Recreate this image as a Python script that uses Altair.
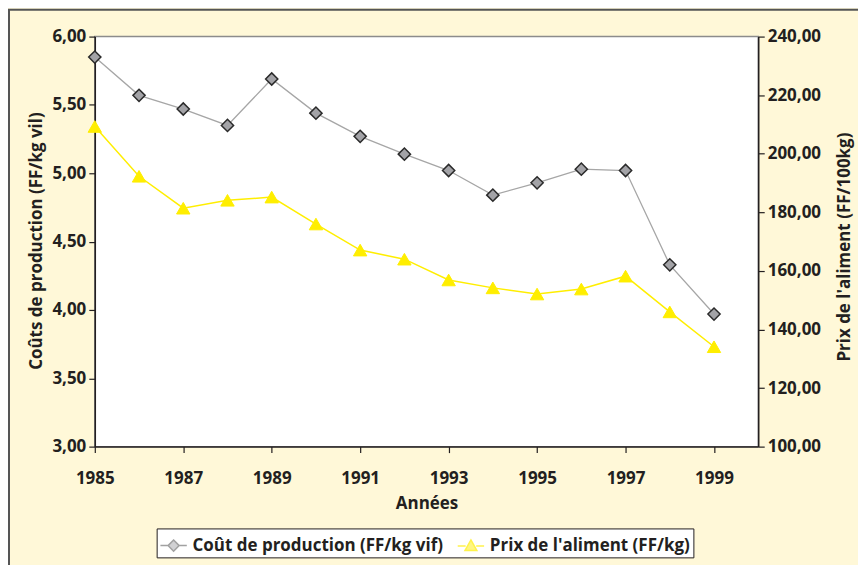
import altair as alt
import pandas as pd

annees = [1985, 1986, 1987, 1988, 1989, 1990, 1991, 1992, 1993, 1994, 1995, 1996, 1997, 1998, 1999]
cout_production = [5.85, 5.57, 5.47, 5.35, 5.69, 5.44, 5.27, 5.14, 5.02, 4.84, 4.93, 5.03, 5.02, 4.33, 3.97]
prix_aliment = [209.3, 192.3, 181.4, 184.1, 185.2, 176.0, 167.1, 164.0, 156.9, 154.2, 152.1, 153.8, 158.2, 146.0, 134.1]

series = ["Coût de production (FF/kg vif)", "Prix de l'aliment (FF/kg)"]
x_ticks = [1985, 1987, 1989, 1991, 1993, 1995, 1997, 1999]
left_ticks = [3.0, 3.5, 4.0, 4.5, 5.0, 5.5, 6.0]
right_ticks = [100, 120, 140, 160, 180, 200, 220, 240]

df = pd.DataFrame({"annee": annees, "cout": cout_production, "prix": prix_aliment})
leg_df = pd.DataFrame({"serie": series})
one = pd.DataFrame({"k": [0]})

FONT = "Open Sans"
TXT = "#231F20"
GRAY_LINE = "#A6A6A6"
YELLOW = "#FFEE00"
W, H = 665, 411
FS = 17

comma = "replace(format(datum.value, '.2f'), '.', ',')"

x_enc = alt.X(
    "annee:Q",
    scale=alt.Scale(domain=[1985, 2000], nice=False, zero=False),
    axis=alt.Axis(values=x_ticks, format="d", title="Années", grid=False, labelFlush=False,
                  labelPadding=18, titlePadding=9, tickSize=6),
)

y_left = alt.Y(
    "cout:Q",
    scale=alt.Scale(domain=[3, 6], nice=False, zero=False),
    axis=alt.Axis(values=left_ticks, labelExpr=comma, title="Coûts de production (FF/kg vil)",
                  grid=False, tickSize=6, labelPadding=3, labelFlush=False,
                  titleX=-58, titleY=H / 2 - 1, titleBaseline="middle", titleAngle=270),
)
y_right = alt.Y(
    "prix:Q",
    scale=alt.Scale(domain=[100, 240], nice=False, zero=False),
    axis=alt.Axis(values=right_ticks, labelExpr=comma, title="Prix de l'aliment (FF/100kg)",
                  orient="right", grid=False, tickSize=6, labelPadding=3, labelFlush=False,
                  titleX=86, titleY=H / 2 + 5, titleBaseline="middle", titleAngle=270),
)

base = alt.Chart(df)
g1 = alt.layer(
    base.mark_line(color=GRAY_LINE, strokeWidth=1.3).encode(x=x_enc, y=y_left),
    base.mark_point(shape="diamond", filled=True, fill="#A3A3A7", stroke="#2A2A2A",
                    strokeWidth=1.5, size=150, opacity=1).encode(x=x_enc, y=y_left),
)
g2 = alt.layer(
    base.mark_line(color=YELLOW, strokeWidth=1.5).encode(x=x_enc, y=y_right),
    base.mark_point(shape="triangle-up", filled=True, fill=YELLOW, stroke=YELLOW,
                    strokeWidth=1, size=180, opacity=1).encode(x=x_enc, y=y_right),
)

path_diamond = "M-1,0L-0.42,0M0.42,0L1,0M0,-0.42L0.42,0L0,0.42L-0.42,0Z"
path_tri = "M-1,0L-0.4,0M0.4,0L1,0M0,-0.45L0.45,0.35L-0.45,0.35Z"

legend_layer = alt.Chart(leg_df).mark_point(filled=True).encode(
    x=alt.value(-5000), y=alt.value(-5000),
    shape=alt.Shape("serie:N", scale=alt.Scale(domain=series, range=[path_diamond, path_tri]), title=None),
    stroke=alt.Stroke("serie:N", scale=alt.Scale(domain=series, range=["#7A7A7A", YELLOW]), title=None),
    fill=alt.Fill("serie:N", scale=alt.Scale(domain=series, range=["#A3A3A7", YELLOW]),
                  title=None,
                  legend=alt.Legend(orient="none", legendX=62, legendY=493, direction="horizontal",
                                    title=None, fillColor="white", strokeColor=TXT,
                                    padding=3, symbolSize=700, symbolOpacity=1,
                                    symbolStrokeWidth=1.5, labelFont=FONT, labelFontSize=FS,
                                    labelFontWeight="bold", labelColor=TXT, columnPadding=10,
                                    labelOffset=5, labelLimit=0)),
)

frame = alt.Chart(one).mark_rect(fill="transparent", stroke="#555555", strokeWidth=2).encode(
    x=alt.value(-86), x2=alt.value(W + 200), y=alt.value(-27), y2=alt.value(H + 200)
)

chart = alt.layer(frame, g1, g2, legend_layer).resolve_scale(y="independent").properties(
    width=W, height=H,
    padding={"left": 87, "top": 28, "right": 100, "bottom": 118},
    autosize=alt.AutoSizeParams(type="none"),
).configure(
    background="#FFF8D8",
).configure_view(
    fill="white", stroke="#8C8C8C", strokeWidth=1.5,
).configure_axis(
    labelFont=FONT, labelFontSize=FS, labelFontWeight="bold", labelColor=TXT,
    titleFont=FONT, titleFontSize=FS, titleFontWeight="bold", titleColor=TXT,
    domainColor=TXT, domainWidth=1.5, tickColor=TXT, tickWidth=1.2,
)

chart.save("out.html", embed_options={"renderer": "svg", "actions": False})
